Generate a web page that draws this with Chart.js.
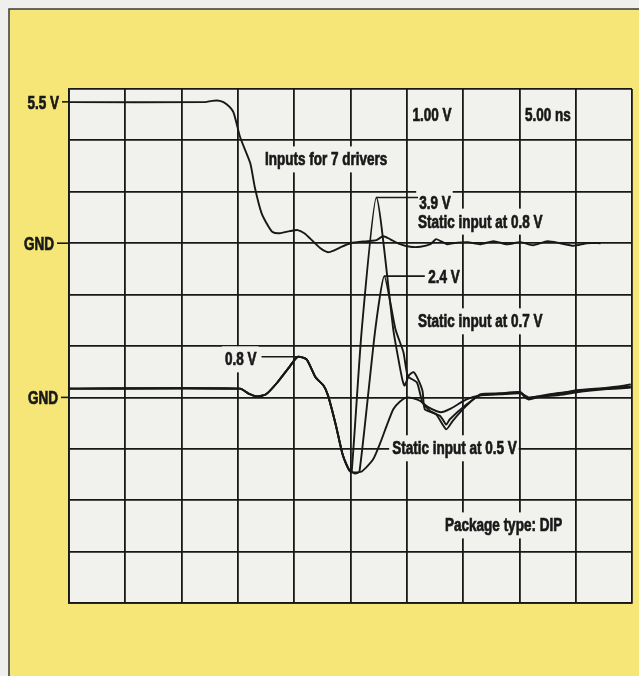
<!DOCTYPE html>
<html>
<head>
<meta charset="utf-8">
<script src="https://cdn.jsdelivr.net/npm/chart.js@4/dist/chart.umd.min.js"></script>
<style>
  html, body { margin: 0; padding: 0; background: #efefeb; }
  #wrap { width: 639px; height: 676px; }
</style>
</head>
<body>
<div id="wrap"><canvas id="chart" width="639" height="676"></canvas></div>
<script>
// ─────────────────────────────────────────────────
// Data: scope traces, time in ns (5.00 ns/div), volts
// ─────────────────────────────────────────────────

// Inputs for 7 drivers (upper trace, own GND, 2 V/div)
const inputsTime = [0, 12.1, 12.7, 13.4, 14.0, 14.6, 15.2, 16.1, 16.5, 17.1, 17.7, 18.1, 18.7, 19.6, 20.3, 20.9, 21.4, 22.3, 23.0, 23.6,
  24.1, 25.0, 26.5, 27.3, 27.9, 28.5, 29.4, 30.3, 31.2, 32.1, 32.6, 33.0, 33.6, 34.1, 35.4, 36.5, 37.7, 38.9, 40.1, 41.2,
  42.5, 43.6, 44.8, 46.0, 47.2];
const inputsVolts = [5.49, 5.49, 5.54, 5.54, 5.41, 5.10, 4.12, 3.11, 2.18, 1.17, 0.66, 0.43, 0.39, 0.47, 0.51, 0.39, 0.19, -0.19, -0.35, -0.27,
  -0.16, 0, 0.08, 0.12, 0.27, 0.16, -0.04, -0.14, -0.14, -0.04, 0.16, 0.08, -0.04, 0, 0.04, -0.04, 0.08, -0.04, 0.04, -0.08,
  0.08, 0, -0.1, 0, 0];
const inputsGndDiv = 3;      // upper GND sits 3 divisions above lower GND
const inputsVoltsPerDiv = 2;

// Quiet-line traces: shared start, then one tail per static input level (1.00 V/div)
const commonTime = [0, 15.2, 15.9, 16.7, 17.5, 18.5, 19.6, 20.3, 21.1, 21.9, 22.6, 23.0, 23.7, 24.3, 24.9];
const commonVolts = [0.17, 0.17, 0.08, 0.02, 0.06, 0.29, 0.60, 0.79, 0.74, 0.39, 0.23, 0.04, -0.54, -1.11, -1.42];

const static08Time = [25.1, 26.0, 27.3, 28.8, 29.1, 29.6, 29.8, 30.2, 30.6, 31.0, 31.4, 31.6, 32.6, 33.5, 34.1, 35.3, 36.5, 38.3, 40.1, 40.8,
  41.6, 43.3, 45.1, 47.8, 49.9];
const static08Volts = [-1.46, 1.32, 3.89, 1.32, 0.93, 0.35, 0.23, 0.43, 0.49, 0.35, 0.12, -0.23, -0.33, -0.62, -0.45, -0.16, 0.06, 0.08, 0.10, -0.04,
  0, 0.06, 0.14, 0.19, 0.25];

const static07Time = [25.4, 25.8, 27.2, 28.0, 29.0, 29.7, 30.1, 30.9, 31.4, 32.1, 33.0, 33.5, 33.8, 35.3, 36.5, 38.3, 40.1, 40.6, 41.6, 43.3,
  45.1, 47.8, 49.9];
const static07Volts = [-1.48, -1.44, 1.32, 2.36, 1.32, 0.88, 0.41, 0.29, -0.10, -0.27, -0.37, -0.53, -0.43, -0.14, 0.04, 0.07, 0.09, -0.02, 0.02, 0.08,
  0.12, 0.18, 0.21];

const static05Time = [25.3, 26.0, 27.0, 27.6, 28.2, 28.8, 29.4, 30.0, 30.6, 31.2, 31.9, 33.0, 33.8, 35.3, 36.5, 38.3, 40.1, 40.8, 41.8, 43.3,
  45.1, 47.8, 49.9];
const static05Volts = [-1.46, -1.44, -1.21, -0.91, -0.56, -0.23, -0.08, 0, -0.02, -0.07, -0.19, -0.29, -0.23, -0.04, 0.04, 0.06, 0.08, 0, 0.02, 0.04,
  0.10, 0.16, 0.19];

// Annotations (time, volts on the lower scale)
const labelTexts = ['Inputs for 7 drivers', '1.00 V', '5.00 ns', '3.9 V', 'Static input at 0.8 V', '2.4 V',
  'Static input at 0.7 V', '0.8 V', 'Static input at 0.5 V', 'Package type: DIP'];
const labelTime = [17.4, 30.5, 40.5, 31.1, 31.0, 31.9, 31.0, 13.85, 28.7, 33.4];
const labelVolts = [4.63, 5.49, 5.49, 3.79, 3.42, 2.35, 1.48, 0.74, -0.99, -2.49];
const labelBg = [true, false, false, true, true, true, true, true, true, true];

// Leader lines from peaks to labels: [t0, t1, volts]
const leaders = [[27.33, 31.0, 3.89], [28.0, 31.6, 2.36], [17.1, 20.34, 0.79]];

// Left-side level markers
const levelTexts = ['5.5 V', 'GND', 'GND'];
const levelVolts = [inputsGndDiv + 5.5 / inputsVoltsPerDiv, inputsGndDiv, 0];
const levelTick = [7, 12, 8];

// ─────────────────────────────────────────────────
const INK = '#181818';
const YELLOW = '#f5e677';
const PLOT_BG = '#f1f1ee';
const FONT = 'bold 18px "Liberation Sans", Arial, sans-serif';
const SQUEEZE = 0.75;

function pts(t, v) { return t.map((x, i) => ({ x, y: v[i] })); }

const inputsPts = inputsTime.map((x, i) => ({ x, y: inputsGndDiv + inputsVolts[i] / inputsVoltsPerDiv }));
const trace08 = pts(commonTime.concat(static08Time), commonVolts.concat(static08Volts));
const trace07 = pts(commonTime.concat(static07Time), commonVolts.concat(static07Volts));
const trace05 = pts(commonTime.concat(static05Time), commonVolts.concat(static05Volts));

function lineSet(label, data) {
  return { label, data, borderColor: INK, borderWidth: 1.9, pointRadius: 0, tension: 0.2, fill: false };
}

function drawSqueezed(ctx, text, x, y, align) {
  const w = ctx.measureText(text).width * SQUEEZE;
  const left = align === 'right' ? x - w : x;
  ctx.save();
  ctx.translate(left, y);
  ctx.scale(SQUEEZE, 1);
  ctx.textAlign = 'left';
  ctx.textBaseline = 'middle';
  ctx.lineWidth = 0.7;
  ctx.fillText(text, 0, 0);
  ctx.strokeText(text, 0, 0);
  ctx.restore();
  return w;
}

const scopeDecor = {
  id: 'scopeDecor',
  beforeDraw(chart) {
    const { ctx, chartArea: a, width, height } = chart;
    ctx.save();
    ctx.fillStyle = '#efefeb';
    ctx.fillRect(0, 0, width, height);
    ctx.fillStyle = YELLOW;
    ctx.fillRect(9, 9, width - 9, height - 9);
    ctx.strokeStyle = '#3a3a3a'; ctx.lineWidth = 1.5;
    ctx.beginPath(); ctx.moveTo(9, height); ctx.lineTo(9, 9); ctx.lineTo(width, 9); ctx.stroke();
    ctx.fillStyle = PLOT_BG;
    ctx.fillRect(a.left, a.top, a.right - a.left, a.bottom - a.top);
    ctx.restore();
  },
  beforeDatasetsDraw(chart) {
    // knock grid lines out behind the labels
    const { ctx, scales: { x, y } } = chart;
    ctx.save();
    ctx.font = FONT;
    labelTexts.forEach((t, i) => {
      if (!labelBg[i]) return;
      const px = x.getPixelForValue(labelTime[i]);
      const py = y.getPixelForValue(labelVolts[i]);
      const w = ctx.measureText(t).width * SQUEEZE;
      ctx.fillStyle = PLOT_BG;
      ctx.fillRect(px - 3, py - 13, w + 5, 26);
    });
    ctx.restore();
  },
  afterDatasetsDraw(chart) {
    const { ctx, chartArea: a, scales: { x, y } } = chart;
    ctx.save();
    ctx.fillStyle = INK;
    ctx.strokeStyle = INK;
    ctx.font = FONT;
    labelTexts.forEach((t, i) => {
      drawSqueezed(ctx, t, x.getPixelForValue(labelTime[i]), y.getPixelForValue(labelVolts[i]) + 1, 'left');
    });
    ctx.lineWidth = 1.6;
    leaders.forEach(([t0, t1, v]) => {
      const py = y.getPixelForValue(v);
      ctx.beginPath(); ctx.moveTo(x.getPixelForValue(t0), py); ctx.lineTo(x.getPixelForValue(t1), py); ctx.stroke();
    });
    levelTexts.forEach((t, i) => {
      const py = y.getPixelForValue(levelVolts[i]);
      ctx.lineWidth = 1.6;
      ctx.beginPath(); ctx.moveTo(a.left - levelTick[i], py); ctx.lineTo(a.left, py); ctx.stroke();
      drawSqueezed(ctx, t, a.left - levelTick[i] - 3, py + 2, 'right');
    });
    ctx.restore();
  }
};

new Chart(document.getElementById('chart'), {
  type: 'line',
  data: {
    datasets: [
      lineSet('Inputs for 7 drivers', inputsPts),
      lineSet('Static input at 0.8 V', trace08),
      lineSet('Static input at 0.7 V', trace07),
      lineSet('Static input at 0.5 V', trace05)
    ]
  },
  options: {
    responsive: false,
    animation: false,
    events: [],
    layout: { padding: { left: 69, right: 7, top: 89, bottom: 73 } },
    plugins: { legend: { display: false }, tooltip: { enabled: false } },
    scales: {
      x: {
        type: 'linear', min: 0, max: 50,
        ticks: { display: false, stepSize: 5 },
        grid: { color: INK, lineWidth: 1.8, drawTicks: false },
        border: { display: true, color: INK, width: 1.8 }
      },
      y: {
        type: 'linear', min: -4, max: 6,
        ticks: { display: false, stepSize: 1 },
        grid: { color: INK, lineWidth: 1.8, drawTicks: false },
        border: { display: true, color: INK, width: 1.8 }
      }
    }
  },
  plugins: [scopeDecor]
});
</script>
</body>
</html>
